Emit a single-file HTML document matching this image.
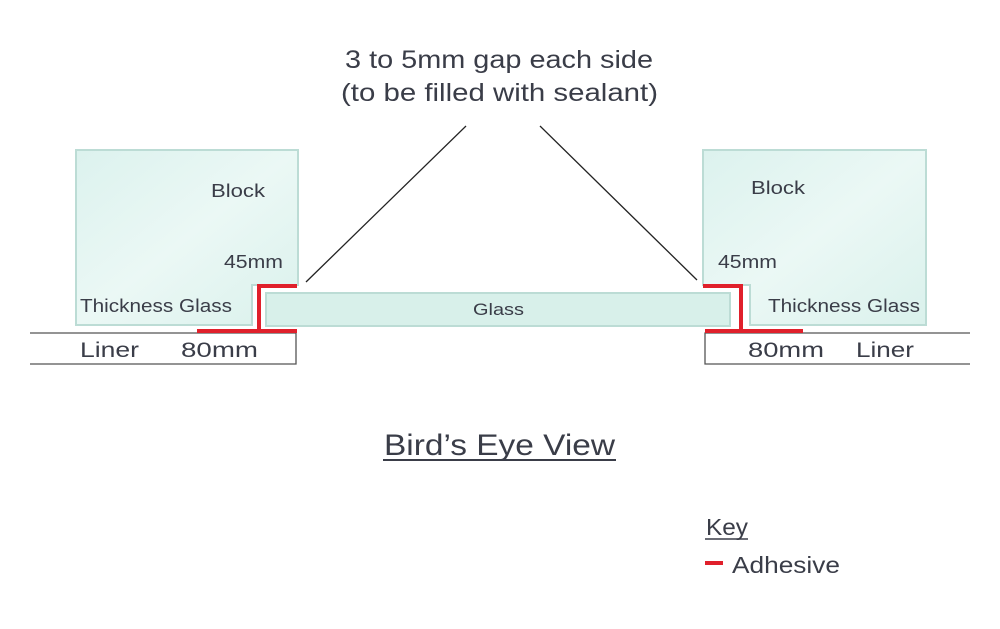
<!DOCTYPE html>
<html><head><meta charset="utf-8"><style>
html,body{margin:0;padding:0;background:#fff;width:1000px;height:629px;overflow:hidden}
svg text{font-family:"Liberation Sans",sans-serif;fill:#3a3d48}
</style></head><body>
<svg width="1000" height="629" viewBox="0 0 1000 629" xmlns="http://www.w3.org/2000/svg">
<defs>
<linearGradient id="g" x1="0" y1="0" x2="1" y2="1">
<stop offset="0" stop-color="#dcf2ee"/><stop offset="0.5" stop-color="#ebf8f5"/><stop offset="1" stop-color="#daf1ec"/>
</linearGradient>
</defs>
<text x="345" y="68" font-size="25" textLength="308" lengthAdjust="spacingAndGlyphs">3 to 5mm gap each side</text>
<text x="341" y="101" font-size="25" textLength="317" lengthAdjust="spacingAndGlyphs">(to be filled with sealant)</text>
<line x1="306" y1="282" x2="466" y2="126" stroke="#222" stroke-width="1.3"/>
<line x1="540" y1="126" x2="697" y2="280" stroke="#222" stroke-width="1.3"/>
<path d="M76 150 H298 V285 H252 V325 H76 Z" fill="url(#g)" stroke="#bcdcd5" stroke-width="2"/>
<path d="M703 150 H926 V325 H750 V285 H703 Z" fill="url(#g)" stroke="#bcdcd5" stroke-width="2"/>
<rect x="266" y="293" width="464" height="33" fill="#d8f0ea" stroke="#bcdcd5" stroke-width="2"/>
<path d="M30 333 H296 V364 H30" fill="none" stroke="#555" stroke-width="1.3"/>
<path d="M970 333 H705 V364 H970" fill="none" stroke="#555" stroke-width="1.3"/>
<g stroke="#e0202b" stroke-width="4" fill="none">
<path d="M297 286 H259 V331"/><path d="M197 331 H297"/>
<path d="M703 286 H741 V331"/><path d="M705 331 H803"/>
</g>
<text x="211" y="197" font-size="18" textLength="54" lengthAdjust="spacingAndGlyphs">Block</text>
<text x="224" y="268" font-size="18" textLength="59" lengthAdjust="spacingAndGlyphs">45mm</text>
<text x="80" y="312" font-size="18" textLength="152" lengthAdjust="spacingAndGlyphs">Thickness Glass</text>
<text x="80" y="357" font-size="21" textLength="59" lengthAdjust="spacingAndGlyphs">Liner</text>
<text x="181" y="357" font-size="21" textLength="77" lengthAdjust="spacingAndGlyphs">80mm</text>
<text x="751" y="194" font-size="18" textLength="54" lengthAdjust="spacingAndGlyphs">Block</text>
<text x="718" y="268" font-size="18" textLength="59" lengthAdjust="spacingAndGlyphs">45mm</text>
<text x="768" y="312" font-size="18" textLength="152" lengthAdjust="spacingAndGlyphs">Thickness Glass</text>
<text x="748" y="357" font-size="21" textLength="76" lengthAdjust="spacingAndGlyphs">80mm</text>
<text x="856" y="357" font-size="21" textLength="58" lengthAdjust="spacingAndGlyphs">Liner</text>
<text x="473" y="315" font-size="17" textLength="51" lengthAdjust="spacingAndGlyphs">Glass</text>
<text x="384" y="455" font-size="30" textLength="231" lengthAdjust="spacingAndGlyphs">Bird’s Eye View</text>
<line x1="383" y1="460" x2="616" y2="460" stroke="#3a3d48" stroke-width="2"/>
<text x="706" y="535" font-size="23" textLength="42" lengthAdjust="spacingAndGlyphs">Key</text>
<line x1="705" y1="539" x2="748" y2="539" stroke="#3a3d48" stroke-width="1.5"/>
<line x1="705" y1="563" x2="723" y2="563" stroke="#e0202b" stroke-width="4"/>
<text x="732" y="573" font-size="23" textLength="108" lengthAdjust="spacingAndGlyphs">Adhesive</text>
</svg>
</body></html>
